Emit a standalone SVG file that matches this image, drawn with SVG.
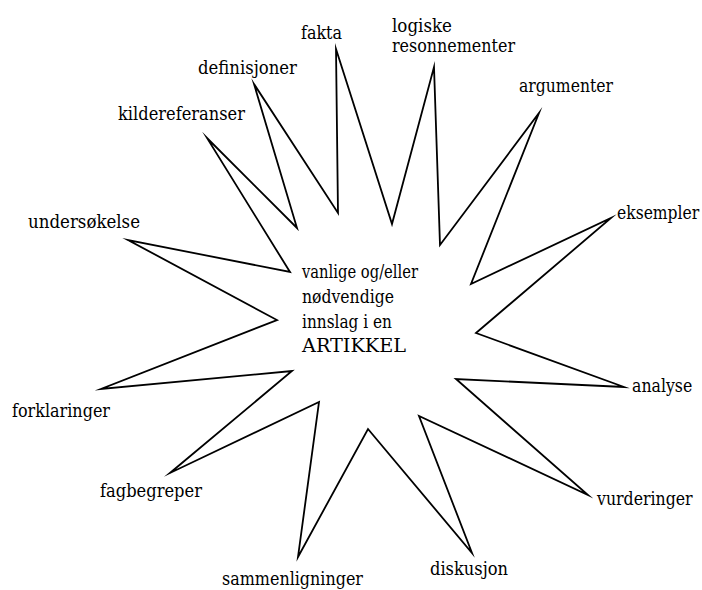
<svg xmlns="http://www.w3.org/2000/svg" width="702" height="590" viewBox="0 0 702 590">
<style>
text{font-family:'DejaVu Serif','Liberation Serif',serif;font-size:19px;fill:#000}
.star{fill:#fff;stroke:#000;stroke-width:1.8;stroke-linejoin:miter;stroke-miterlimit:20}
</style>
<rect width="702" height="590" fill="#fff"/>
<g id="star">
<polygon class="star" points="207,138 297,228 254,84 338,213 336,49 392,224 434,67 440,245 539,113 471,284 611,218 476,333 624,387 456,379 588,495 419,416 472,553 368,429 298,557 319,402 170,473 292,371 101,389 277,320 128,240 290,272"/>
</g>
<g id="center">
<text x="302" y="278" textLength="116" lengthAdjust="spacingAndGlyphs">vanlige og/eller</text>
<text x="302" y="303" textLength="92" lengthAdjust="spacingAndGlyphs">nødvendige</text>
<text x="302" y="328" textLength="90" lengthAdjust="spacingAndGlyphs">innslag i en</text>
<text x="302" y="352" textLength="104" lengthAdjust="spacingAndGlyphs">ARTIKKEL</text>
</g>
<g id="fakta"><text x="301" y="39" textLength="41" lengthAdjust="spacingAndGlyphs">fakta</text></g>
<g id="logiske"><text x="392" y="32" textLength="60" lengthAdjust="spacingAndGlyphs">logiske</text><text x="392" y="52" textLength="123" lengthAdjust="spacingAndGlyphs">resonnementer</text></g>
<g id="definisjoner"><text x="198" y="74" textLength="99" lengthAdjust="spacingAndGlyphs">definisjoner</text></g>
<g id="argumenter"><text x="519" y="92" textLength="94" lengthAdjust="spacingAndGlyphs">argumenter</text></g>
<g id="kildereferanser"><text x="118" y="120" textLength="127" lengthAdjust="spacingAndGlyphs">kildereferanser</text></g>
<g id="undersokelse"><text x="28" y="228" textLength="112" lengthAdjust="spacingAndGlyphs">undersøkelse</text></g>
<g id="eksempler"><text transform="translate(617,219) scale(0.82,1)">eksempler</text></g>
<g id="analyse"><text transform="translate(632,392) scale(0.83,1)">analyse</text></g>
<g id="vurderinger"><text transform="translate(597,505) scale(0.83,1)">vurderinger</text></g>
<g id="forklaringer"><text x="12" y="417" textLength="98" lengthAdjust="spacingAndGlyphs">forklaringer</text></g>
<g id="fagbegreper"><text x="100" y="497" textLength="102" lengthAdjust="spacingAndGlyphs">fagbegreper</text></g>
<g id="sammenligninger"><text x="222" y="585" textLength="141" lengthAdjust="spacingAndGlyphs">sammenligninger</text></g>
<g id="diskusjon"><text x="430" y="575" textLength="78" lengthAdjust="spacingAndGlyphs">diskusjon</text></g>
<g id="connectors"></g>
</svg>
